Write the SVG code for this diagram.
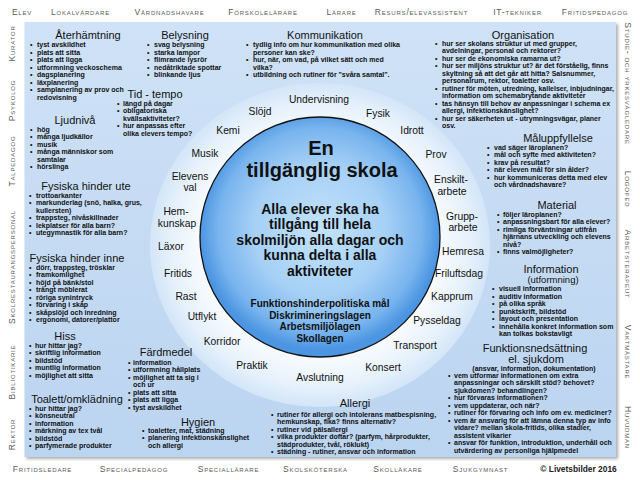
<svg xmlns="http://www.w3.org/2000/svg" width="640" height="480" viewBox="0 0 640 480">
<defs>
<style>
text{font-family:"Liberation Sans",Arial,sans-serif}
.bd{font-size:8.5px;font-variant:small-caps;fill:#5a5a5a;letter-spacing:0.8px;text-anchor:middle}
.t{font-size:11px;fill:#111;text-anchor:middle}
.b{font-size:7px;font-weight:bold;fill:#111}
.r{font-size:10.3px;fill:#111;text-anchor:middle}
.c1{font-size:20px;font-weight:bold;fill:#111;text-anchor:middle}
.c2{font-size:14px;font-weight:bold;fill:#111;text-anchor:middle}
.c3{font-size:10px;font-weight:bold;fill:#111;text-anchor:middle}
</style>
<linearGradient id="pg" x1="0" y1="0" x2="0" y2="1">
<stop offset="0" stop-color="#cfe2f7"/><stop offset="1" stop-color="#bbd4f0"/>
</linearGradient>
<radialGradient id="rg" cx="0.5" cy="0.5" r="0.5">
<stop offset="0" stop-color="#ffffff"/><stop offset="0.72" stop-color="#f6fafe"/><stop offset="0.88" stop-color="#e6f1fc"/><stop offset="1" stop-color="#d3e5f8"/>
</radialGradient>
<radialGradient id="cg" cx="0.5" cy="0.47" r="0.5">
<stop offset="0" stop-color="#c2e2fb"/><stop offset="0.55" stop-color="#a6d0f6"/><stop offset="0.85" stop-color="#78b4ee"/><stop offset="1" stop-color="#4b95e2"/>
</radialGradient>
<filter id="sh" x="-5%" y="-5%" width="110%" height="110%">
<feDropShadow dx="2" dy="2" stdDeviation="1.5" flood-color="#777" flood-opacity="0.6"/>
</filter>
</defs>
<rect width="640" height="480" fill="#fff"/>
<g id="border">
<text class="bd" x="22" y="15">Elev</text>
<text class="bd" x="80.5" y="15">Lokalvårdare</text>
<text class="bd" x="169.5" y="15">Vårdnadshavare</text>
<text class="bd" x="263" y="15">Förskolelärare</text>
<text class="bd" x="341.5" y="15">Lärare</text>
<text class="bd" x="421.5" y="15">Resurs/elevassistent</text>
<text class="bd" x="517.5" y="15">IT-tekniker</text>
<text class="bd" x="595" y="15">Fritidspedagog</text>
<text class="bd" x="42.5" y="472">Fritidsledare</text>
<text class="bd" x="134" y="472">Specialpedagog</text>
<text class="bd" x="228.5" y="472">Speciallärare</text>
<text class="bd" x="315.5" y="472">Skolsköterska</text>
<text class="bd" x="398" y="472">Skolläkare</text>
<text class="bd" x="480.5" y="472">Sjukgymnast</text>
<text x="578.5" y="472" style="font-size:8.4px;font-weight:bold;fill:#222;text-anchor:middle">© Livetsbilder 2016</text>
<text class="bd" transform="translate(14.5,43.5) rotate(-90)">Kurator</text>
<text class="bd" transform="translate(14.5,100.5) rotate(-90)">Psykolog</text>
<text class="bd" transform="translate(14.5,161) rotate(-90)">Talpedagog</text>
<text class="bd" transform="translate(14.5,267) rotate(-90)">Skolrestaurangspersonal</text>
<text class="bd" transform="translate(14.5,372) rotate(-90)">Bibliotikarie</text>
<text class="bd" transform="translate(14.5,434.5) rotate(-90)">Rektor</text>
<text class="bd" transform="translate(625,83.5) rotate(90)">Studie- och yrkesvägledare</text>
<text class="bd" transform="translate(625,189) rotate(90)">Logoped</text>
<text class="bd" transform="translate(625,264) rotate(90)">Arbetsterapeut</text>
<text class="bd" transform="translate(625,352) rotate(90)">Vaktmästare</text>
<text class="bd" transform="translate(625,427.5) rotate(90)">Huvudman</text>
</g>
<rect id="panel" x="24.5" y="22" width="591.5" height="435" fill="url(#pg)" filter="url(#sh)"/>
<g id="ring">
<ellipse cx="320" cy="245" rx="170" ry="162" fill="url(#rg)"/>
<text class="r" x="319" y="102.5">Undervisning</text>
<text class="r" x="260" y="114.5">Slöjd</text>
<text class="r" x="228" y="133.5">Kemi</text>
<text class="r" x="205" y="156.5">Musik</text>
<text class="r" x="378" y="116.5">Fysik</text>
<text class="r" x="412" y="133.5">Idrott</text>
<text class="r" x="436" y="157.5">Prov</text>
<text class="r" x="190" y="180">Elevens</text>
<text class="r" x="190" y="191">val</text>
<text class="r" x="176" y="215">Hem-</text>
<text class="r" x="177" y="226.5">kunskap</text>
<text class="r" x="171" y="249.5">Läxor</text>
<text class="r" x="178" y="277">Fritids</text>
<text class="r" x="186" y="299.5">Rast</text>
<text class="r" x="202" y="320">Utflykt</text>
<text class="r" x="222" y="344.5">Korridor</text>
<text class="r" x="252" y="368.5">Praktik</text>
<text class="r" x="320" y="380.5">Avslutning</text>
<text class="r" x="383" y="370.5">Konsert</text>
<text class="r" x="415" y="348.5">Transport</text>
<text class="r" x="437" y="323.5">Pysseldag</text>
<text class="r" x="452" y="299.5">Kapprum</text>
<text class="r" x="459" y="276.5">Friluftsdag</text>
<text class="r" x="463" y="254.5">Hemresa</text>
<text class="r" x="462" y="219.5">Grupp-</text>
<text class="r" x="463" y="230.5">arbete</text>
<text class="r" x="451" y="182.5">Enskilt-</text>
<text class="r" x="452" y="194.5">arbete</text>
</g>
<g id="center">
<circle cx="320" cy="237" r="120" fill="url(#cg)" stroke="#111" stroke-width="1.3"/>
<text class="c1" x="321" y="155">En</text>
<text class="c1" x="322" y="176.5">tillgänglig skola</text>
<text class="c2" x="320" y="213.5">Alla elever ska ha</text>
<text class="c2" x="320" y="229">tillgång till hela</text>
<text class="c2" x="320" y="244.5">skolmiljön alla dagar och</text>
<text class="c2" x="320" y="260">kunna delta i alla</text>
<text class="c2" x="320" y="275.5">aktiviteter</text>
<text class="c3" x="320" y="307">Funktionshinderpolitiska mål</text>
<text class="c3" x="320" y="318.7">Diskrimineringslagen</text>
<text class="c3" x="320" y="330.4">Arbetsmiljölagen</text>
<text class="c3" x="320" y="342">Skollagen</text>
</g>
<g id="aterhamtning">
<text class="t" x="88" y="39">Återhämtning</text>
<text class="b"><tspan x="30" y="47">•</tspan><tspan x="37">tyst avskildhet</tspan>
<tspan x="30" y="54.5">•</tspan><tspan x="37">plats att sitta</tspan>
<tspan x="30" y="62">•</tspan><tspan x="37">plats att ligga</tspan>
<tspan x="30" y="69.5">•</tspan><tspan x="37">utformning veckoschema</tspan>
<tspan x="30" y="77">•</tspan><tspan x="37">dagsplanering</tspan>
<tspan x="30" y="84.5">•</tspan><tspan x="37">läxplanering</tspan>
<tspan x="30" y="92">•</tspan><tspan x="37">samplanering av prov och</tspan>
<tspan x="37" y="99.5">redovisning</tspan></text>
</g>
<g id="ljudniva">
<text class="t" x="75" y="124">Ljudnivå</text>
<text class="b"><tspan x="30" y="131.5">•</tspan><tspan x="37">hög</tspan>
<tspan x="30" y="139">•</tspan><tspan x="37">många ljudkällor</tspan>
<tspan x="30" y="146.5">•</tspan><tspan x="37">musik</tspan>
<tspan x="30" y="154">•</tspan><tspan x="37">många människor som</tspan>
<tspan x="37" y="161.5">samtalar</tspan>
<tspan x="30" y="169">•</tspan><tspan x="37">hörslinga</tspan></text>
</g>
<g id="hinder-ute">
<text class="t" x="86" y="190">Fysiska hinder ute</text>
<text class="b"><tspan x="29" y="197.5">•</tspan><tspan x="36">trottoarkanter</tspan>
<tspan x="29" y="205">•</tspan><tspan x="36">markunderlag (snö, halka, grus,</tspan>
<tspan x="36" y="212.5">kullersten)</tspan>
<tspan x="29" y="220">•</tspan><tspan x="36">trappsteg, nivåskillnader</tspan>
<tspan x="29" y="227.5">•</tspan><tspan x="36">lekplatser för alla barn?</tspan>
<tspan x="29" y="235">•</tspan><tspan x="36">utegymnastik för alla barn?</tspan></text>
</g>
<g id="hinder-inne">
<text class="t" x="77" y="262">Fysiska hinder inne</text>
<text class="b"><tspan x="29" y="269.5">•</tspan><tspan x="36">dörr, trappsteg, trösklar</tspan>
<tspan x="29" y="277">•</tspan><tspan x="36">framkomlighet</tspan>
<tspan x="29" y="284.5">•</tspan><tspan x="36">höjd på bänk/stol</tspan>
<tspan x="29" y="292">•</tspan><tspan x="36">trångt möblerat</tspan>
<tspan x="29" y="299.5">•</tspan><tspan x="36">röriga synintryck</tspan>
<tspan x="29" y="307">•</tspan><tspan x="36">förvaring i skåp</tspan>
<tspan x="29" y="314.5">•</tspan><tspan x="36">skåpslöjd och inredning</tspan>
<tspan x="29" y="322">•</tspan><tspan x="36">ergonomi, datorer/plattor</tspan></text>
</g>
<g id="hiss">
<text class="t" x="65" y="340">Hiss</text>
<text class="b"><tspan x="29" y="347.5">•</tspan><tspan x="35">hur hittar jag?</tspan>
<tspan x="29" y="355">•</tspan><tspan x="35">skriftlig information</tspan>
<tspan x="29" y="362.5">•</tspan><tspan x="35">bildstöd</tspan>
<tspan x="29" y="370">•</tspan><tspan x="35">muntlig information</tspan>
<tspan x="29" y="377.5">•</tspan><tspan x="35">möjlighet att sitta</tspan></text>
</g>
<g id="toalett">
<text class="t" x="77" y="403">Toalett/omklädning</text>
<text class="b"><tspan x="29" y="410.5">•</tspan><tspan x="35">hur hittar jag?</tspan>
<tspan x="29" y="418">•</tspan><tspan x="35">könsneutral</tspan>
<tspan x="29" y="425.5">•</tspan><tspan x="35">information</tspan>
<tspan x="29" y="433">•</tspan><tspan x="35">märkning av tex tvål</tspan>
<tspan x="29" y="440.5">•</tspan><tspan x="35">bildstöd</tspan>
<tspan x="29" y="448">•</tspan><tspan x="35">parfymerade produkter</tspan></text>
</g>
<g id="belysning">
<text class="t" x="185" y="39">Belysning</text>
<text class="b"><tspan x="147" y="47">•</tspan><tspan x="154">svag belysning</tspan>
<tspan x="147" y="54.5">•</tspan><tspan x="154">starka lampor</tspan>
<tspan x="147" y="62">•</tspan><tspan x="154">flimrande lysrör</tspan>
<tspan x="147" y="69.5">•</tspan><tspan x="154">nedåtriktade spottar</tspan>
<tspan x="147" y="77">•</tspan><tspan x="154">blinkande ljus</tspan></text>
</g>
<g id="tid-tempo">
<text class="t" x="155" y="98">Tid - tempo</text>
<text class="b"><tspan x="117" y="105.5">•</tspan><tspan x="123">längd på dagar</tspan>
<tspan x="117" y="113">•</tspan><tspan x="123">obligatoriska</tspan>
<tspan x="123" y="120.5">kvällsaktiviteter?</tspan>
<tspan x="117" y="128">•</tspan><tspan x="123">hur anpassas efter</tspan>
<tspan x="123" y="135.5">olika elevers tempo?</tspan></text>
</g>
<g id="kommunikation">
<text class="t" x="325" y="39">Kommunikation</text>
<text class="b"><tspan x="246" y="47">•</tspan><tspan x="253">tydlig info om hur kommunikation med olika</tspan>
<tspan x="253" y="54.5">personer kan ske?</tspan>
<tspan x="246" y="62">•</tspan><tspan x="253">hur, när, om vad, på vilket sätt och med</tspan>
<tspan x="253" y="69.5">vilka?</tspan>
<tspan x="246" y="77">•</tspan><tspan x="253">utbildning och rutiner för "svåra samtal".</tspan></text>
</g>
<g id="organisation">
<text class="t" x="523" y="39">Organisation</text>
<text class="b"><tspan x="435" y="45.5">•</tspan><tspan x="442">hur ser skolans struktur ut med grupper,</tspan>
<tspan x="442" y="53">avdelningar, personal och rektorer?</tspan>
<tspan x="435" y="60.5">•</tspan><tspan x="442">hur ser de ekonomiska ramarna ut?</tspan>
<tspan x="435" y="68">•</tspan><tspan x="442">hur ser miljöns struktur ut? är det förståelig, finns</tspan>
<tspan x="442" y="75.5">skyltning så att det går att hitta? Salsnummer,</tspan>
<tspan x="442" y="83">personalrum, rektor, toaletter osv.</tspan>
<tspan x="435" y="90.5">•</tspan><tspan x="442">rutiner för möten, utredning, kallelser, inbjudningar,</tspan>
<tspan x="442" y="98">information om schemabrytande aktiviteter</tspan>
<tspan x="435" y="105.5">•</tspan><tspan x="442">tas hänsyn till behov av anpassningar i schema ex</tspan>
<tspan x="442" y="113">allergi, infektionskänslighet?</tspan>
<tspan x="435" y="120.5">•</tspan><tspan x="442">hur ser säkerheten ut - utrymningsvägar, planer</tspan>
<tspan x="442" y="128">osv.</tspan></text>
</g>
<g id="maluppfyllelse">
<text class="t" x="558" y="142">Måluppfyllelse</text>
<text class="b"><tspan x="487" y="149.5">•</tspan><tspan x="494">vad säger läroplanen?</tspan>
<tspan x="487" y="157">•</tspan><tspan x="494">mål och syfte med aktiviteten?</tspan>
<tspan x="487" y="164.5">•</tspan><tspan x="494">krav på resultat?</tspan>
<tspan x="487" y="172">•</tspan><tspan x="494">när eleven mål för sin ålder?</tspan>
<tspan x="487" y="179.5">•</tspan><tspan x="494">hur kommuniceras detta med elev</tspan>
<tspan x="494" y="187">och vårdnadshavare?</tspan></text>
</g>
<g id="material">
<text class="t" x="557" y="209">Material</text>
<text class="b"><tspan x="497" y="216.5">•</tspan><tspan x="503">följer läroplanen?</tspan>
<tspan x="497" y="224">•</tspan><tspan x="503">anpassningsbart för alla elever?</tspan>
<tspan x="497" y="231.5">•</tspan><tspan x="503">rimliga förväntningar utifrån</tspan>
<tspan x="503" y="239">hjärnans utveckling och elevens</tspan>
<tspan x="503" y="246.5">nivå?</tspan>
<tspan x="497" y="254">•</tspan><tspan x="503">finns valmöjligheter?</tspan></text>
</g>
<g id="information">
<text class="t" x="551" y="273">Information</text>
<text class="t" x="553" y="283" style="font-size:9.5px">(utformning)</text>
<text class="b"><tspan x="492" y="291">•</tspan><tspan x="499">visuell information</tspan>
<tspan x="492" y="298.5">•</tspan><tspan x="499">auditiv information</tspan>
<tspan x="492" y="306">•</tspan><tspan x="499">på olika språk</tspan>
<tspan x="492" y="313.5">•</tspan><tspan x="499">punktskrift, bildstöd</tspan>
<tspan x="492" y="321">•</tspan><tspan x="499">layout och presentation</tspan>
<tspan x="492" y="328.5">•</tspan><tspan x="499">innehålla konkret information som</tspan>
<tspan x="499" y="336">kan tolkas bokstavligt</tspan></text>
</g>
<g id="funktionsnedsattning">
<text class="t" x="535" y="352">Funktionsnedsättning</text>
<text class="t" x="536" y="363">el. sjukdom</text>
<text class="b" x="534" y="370.5" style="text-anchor:middle">(ansvar, information, dokumentation)</text>
<text class="b"><tspan x="448" y="377.5">•</tspan><tspan x="454">vem utformar informationen om extra</tspan>
<tspan x="454" y="385">anpassningar och särskilt stöd?  behovet?</tspan>
<tspan x="454" y="392.5">sjukdomen? behandlingen?</tspan>
<tspan x="448" y="400">•</tspan><tspan x="454">hur förvaras informationen?</tspan>
<tspan x="448" y="407.5">•</tspan><tspan x="454">vem uppdaterar, och när?</tspan>
<tspan x="448" y="415">•</tspan><tspan x="454">rutiner för förvaring och info om ev. mediciner?</tspan>
<tspan x="448" y="422.5">•</tspan><tspan x="454">vem är ansvarig för att lämna denna typ av info</tspan>
<tspan x="454" y="430">vidare? mellan skola-fritids, olika stadier,</tspan>
<tspan x="454" y="437.5">assistent vikarier</tspan>
<tspan x="448" y="445">•</tspan><tspan x="454">ansvar för funktion, introduktion, underhåll och</tspan>
<tspan x="454" y="452.5">utvärdering av personliga hjälpmedel</tspan></text>
</g>
<g id="allergi">
<text class="t" x="355" y="407">Allergi</text>
<text class="b"><tspan x="271" y="416.5">•</tspan><tspan x="277">rutiner för allergi och intolerans matbespisning,</tspan>
<tspan x="277" y="424">hemkunskap, fika? finns alternativ?</tspan>
<tspan x="271" y="431.5">•</tspan><tspan x="277">rutiner vid pälsallergi</tspan>
<tspan x="271" y="439">•</tspan><tspan x="277">vilka produkter doftar? (parfym, hårprodukter,</tspan>
<tspan x="277" y="446.5">städprodukter, tvål, röklukt)</tspan>
<tspan x="271" y="454">•</tspan><tspan x="277">städning - rutiner, ansvar och information</tspan></text>
</g>
<g id="fardmedel">
<text class="t" x="166" y="356">Färdmedel</text>
<text class="b"><tspan x="128" y="364.5">•</tspan><tspan x="133">information</tspan>
<tspan x="128" y="372">•</tspan><tspan x="133">utformning hållplats</tspan>
<tspan x="128" y="379.5">•</tspan><tspan x="133">möjlighet att ta sig i</tspan>
<tspan x="133" y="387">och ur</tspan>
<tspan x="128" y="394.5">•</tspan><tspan x="133">plats att sitta</tspan>
<tspan x="128" y="402">•</tspan><tspan x="133">plats att ligga</tspan>
<tspan x="128" y="409.5">•</tspan><tspan x="133">tyst avskildhet</tspan></text>
</g>
<g id="hygien">
<text class="t" x="198" y="426">Hygien</text>
<text class="b"><tspan x="142" y="432.5">•</tspan><tspan x="148">toaletter, mat, städning</tspan>
<tspan x="142" y="440">•</tspan><tspan x="148">planering infektionskänslighet</tspan>
<tspan x="148" y="447.5">och allergi</tspan></text>
</g>
<g id="connectors"/>
</svg>
